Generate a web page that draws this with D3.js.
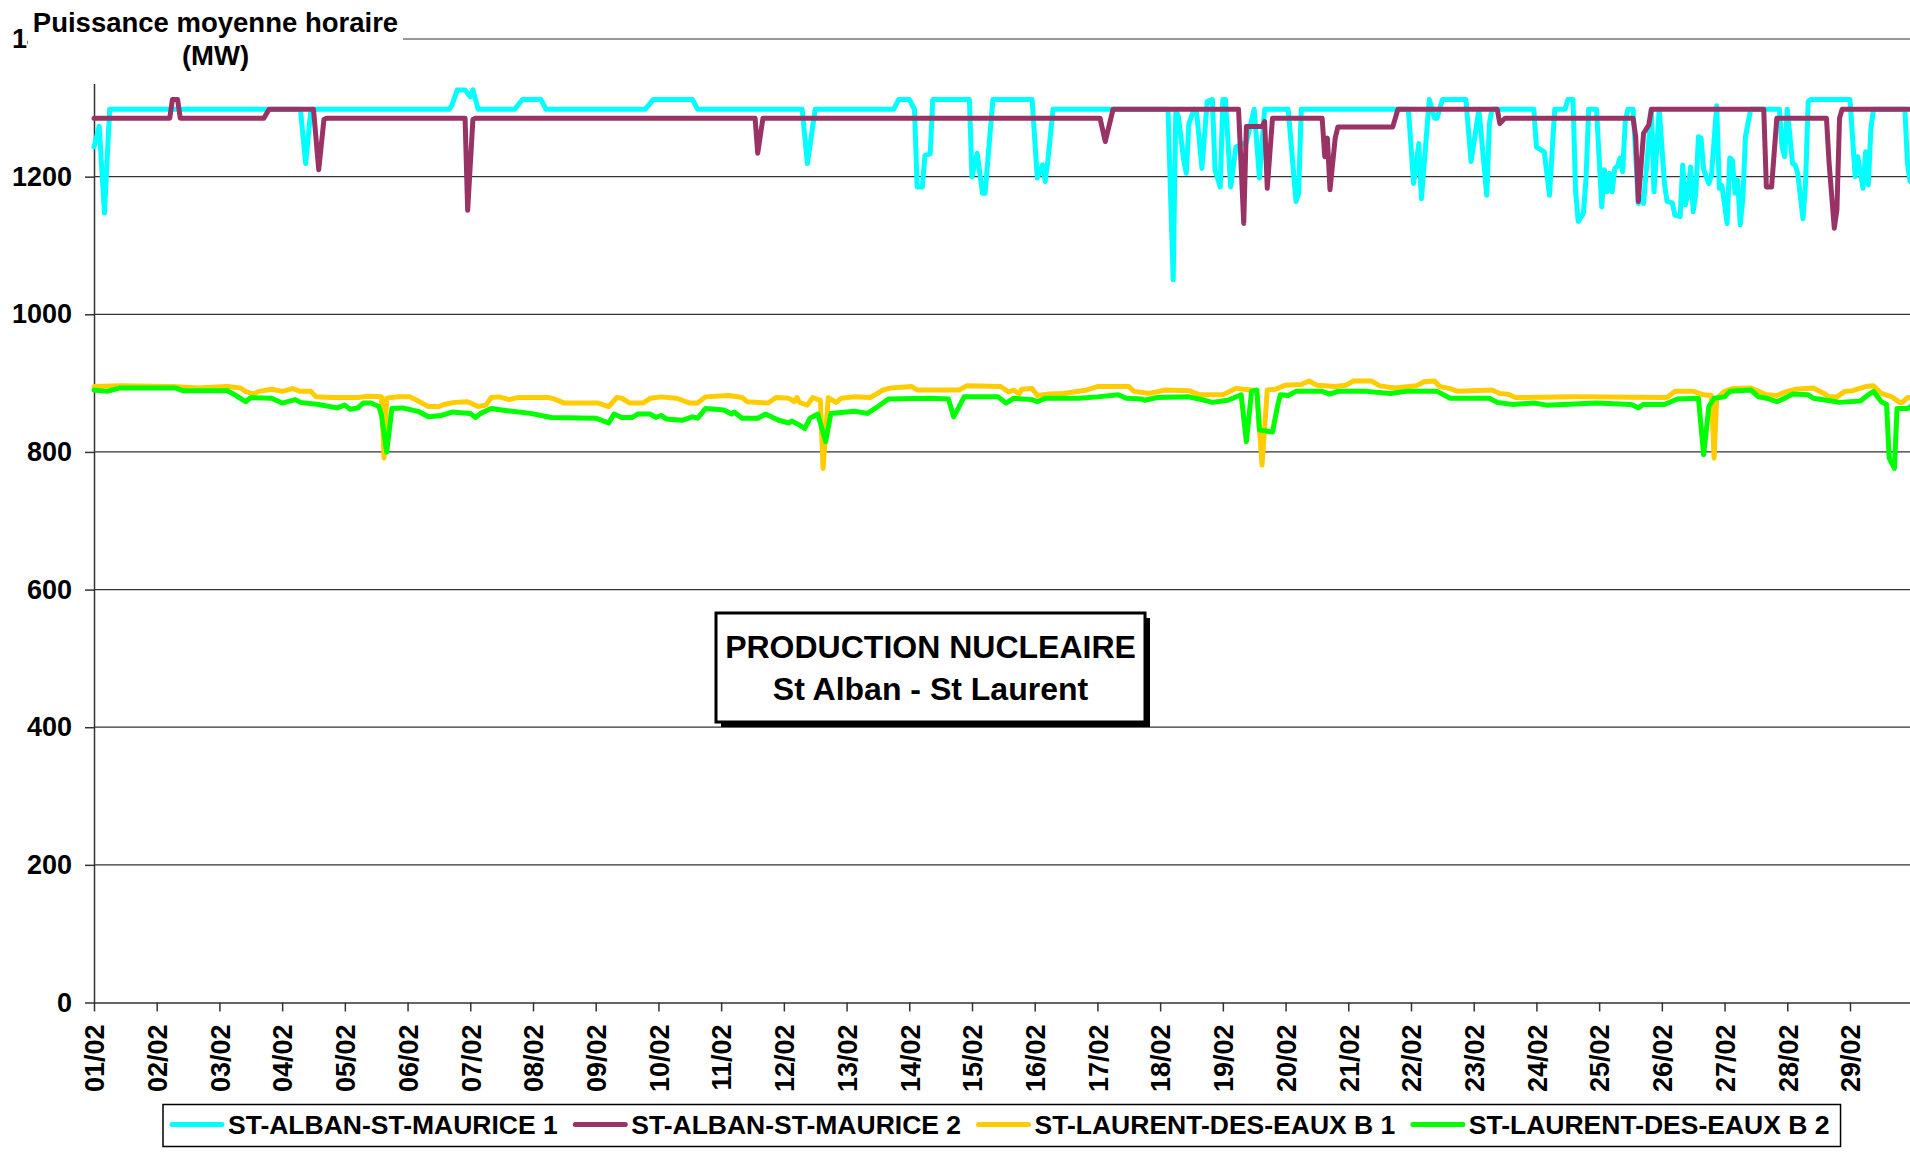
<!DOCTYPE html>
<html>
<head>
<meta charset="utf-8">
<script src="https://cdn.jsdelivr.net/npm/d3@7"></script>
<style>
  body { margin: 0; background: #fff; }
  svg { display: block; font-family: "Liberation Sans", Arial, sans-serif; font-weight: bold; }
</style>
</head>
<body>
<div id="container"></div>
<script>
/* DATA : [hours since 01/02 00h, MW] */
const seriesNames = ["ST-ALBAN-ST-MAURICE 1", "ST-ALBAN-ST-MAURICE 2", "ST-LAURENT-DES-EAUX B 1", "ST-LAURENT-DES-EAUX B 2"];
const seriesColors = ["#00ffff", "#993366", "#ffcc00", "#00ff00"];
const dayLabels = ["01/02","02/02","03/02","04/02","05/02","06/02","07/02","08/02","09/02","10/02",
  "11/02","12/02","13/02","14/02","15/02","16/02","17/02","18/02","19/02","20/02",
  "21/02","22/02","23/02","24/02","25/02","26/02","27/02","28/02","29/02"];
const yTicks = [0, 200, 400, 600, 800, 1000, 1200, 1400];

const stAlban1 = [
  [0,1243],[2,1273],[4,1147],[6,1298],[79,1298],[81,1219],[83,1298],
  [136,1298],[137,1304],[139,1326],[142,1326],[144,1316],[145,1326],[147,1298],
  [161,1298],[164,1312],[171,1312],[173,1298],[211,1298],[214,1312],[229,1312],[231,1298],
  [271,1298],[273,1219],[276,1298],[306,1298],[308,1312],[312,1312],[314,1298],[315,1185],[317,1185],
  [318,1231],[320,1233],[321,1312],[335,1312],[336,1200],[338,1234],[340,1176],[341,1176],[344,1312],
  [359,1312],[361,1198],[363,1217],[364,1193],[365,1222],[367,1298],
  [411,1298],[413,1050],[414,1298],[415,1287],[417,1224],[418,1205],[419,1277],[421,1298],[422,1292],
  [424,1212],[426,1309],[428,1312],[429,1210],[431,1185],[432,1312],[433,1312],[435,1185],[437,1243],
  [441,1250],[444,1298],[446,1198],[448,1298],[457,1298],[460,1164],[461,1176],[462,1298],
  [503,1298],[505,1190],[507,1248],[508,1168],[511,1312],[513,1285],[514,1285],[516,1312],
  [525,1312],[527,1222],[530,1298],[533,1173],[534,1277],[535,1298],[551,1298],[552,1243],[555,1236],
  [557,1173],[559,1298],[563,1298],[564,1312],[566,1312],[567,1178],[568,1135],[570,1147],[571,1198],
  [572,1298],[575,1298],[577,1156],[578,1210],[579,1178],[580,1205],[581,1178],[582,1212],[583,1215],
  [584,1227],[585,1207],[586,1280],[587,1298],[589,1298],[591,1161],[592,1170],[593,1161],[596,1298],
  [597,1178],[599,1298],[601,1190],[602,1164],[604,1162],[605,1144],[607,1142],[608,1217],[609,1159],
  [610,1176],[611,1214],[612,1149],[613,1176],[614,1258],[615,1256],[616,1210],[618,1190],[619,1202],
  [621,1303],[622,1183],[623,1187],[625,1132],[626,1227],[627,1224],[628,1176],[629,1195],[630,1130],
  [631,1168],[632,1258],[634,1298],[645,1298],[646,1243],[647,1229],[648,1298],[650,1219],[651,1217],
  [652,1205],[654,1139],[655,1190],[656,1309],[657,1312],[672,1312],[674,1200],[675,1229],[677,1183],
  [678,1236],[679,1188],[680,1270],[681,1298],[693,1298],[694,1219],[695,1193],[696,1195]
];

const stAlban2 = [
  [0,1285],[29,1285],[30,1312],[32,1312],[33,1285],[65,1285],[67,1298],[84,1298],[86,1210],[88,1283],
  [89,1285],[142,1285],[143,1151],[145,1283],[146,1285],[253,1285],[254,1234],[256,1285],
  [385,1285],[387,1251],[390,1298],[438,1298],[440,1132],[441,1273],[447,1273],[448,1280],[449,1183],
  [451,1285],[470,1285],[471,1229],[472,1256],[473,1181],[475,1256],[476,1272],[497,1272],[499,1298],
  [537,1298],[538,1277],[540,1285],[589,1285],[590,1258],[591,1164],[593,1263],[595,1275],[596,1298],
  [639,1298],[640,1185],[642,1185],[644,1285],[663,1285],[664,1220],[666,1125],[667,1152],[668,1285],
  [669,1298],[696,1298]
];

const stLaurent1 = [
  [0,895],[10,896],[30,895],[40,893],[51,895],[56,893],[58,888],[61,884],[63,888],[68,891],[72,888],
  [76,892],[79,888],[83,888],[85,880],[91,879],[101,879],[105,881],[110,880],[111,791],[112,878],
  [116,880],[121,880],[124,874],[128,866],[132,866],[134,869],[138,872],[143,873],[147,866],[150,868],
  [152,879],[155,880],[159,876],[162,879],[174,879],[176,877],[180,871],[193,871],[197,866],[200,879],
  [202,878],[205,871],[210,871],[213,878],[217,880],[223,878],[228,871],[231,871],[234,880],[243,882],
  [248,879],[250,873],[258,871],[261,879],[266,878],[268,873],[269,879],[270,872],[273,868],[275,879],
  [278,875],[279,776],[281,879],[284,872],[286,878],[291,880],[297,879],[302,890],[305,893],[313,895],
  [315,890],[331,890],[334,896],[347,895],[350,887],[352,890],[354,884],[355,891],[359,892],[361,882],
  [365,884],[371,885],[380,890],[384,895],[396,895],[398,888],[404,885],[410,890],[419,889],[423,883],
  [432,883],[437,892],[443,890],[445,889],[447,781],[449,890],[452,891],[456,897],[462,898],[465,903],
  [468,897],[475,895],[479,897],[482,903],[489,903],[492,896],[498,893],[506,896],[509,902],[513,903],
  [515,895],[519,892],[522,888],[535,890],[538,885],[541,884],[544,879],[566,880],[602,879],[605,888],
  [612,888],[616,883],[619,882],[620,791],[621,878],[624,888],[627,892],[634,893],[637,888],[640,883],
  [644,882],[648,888],[651,891],[658,893],[662,885],[664,880],[667,880],[670,888],[673,889],[678,895],
  [681,896],[684,885],[688,880],[691,872],[692,872],[694,879],[696,878]
];

const stLaurent2 = [
  [0,890],[5,888],[10,893],[31,893],[34,889],[51,889],[53,885],[58,873],[60,879],[68,878],[72,871],
  [77,876],[79,872],[86,869],[93,864],[96,868],[98,862],[101,864],[103,871],[106,871],[109,866],
  [110,854],[112,800],[114,863],[118,864],[124,859],[128,851],[133,853],[137,858],[144,856],[146,850],
  [148,856],[152,863],[156,861],[167,856],[175,850],[192,849],[197,842],[199,855],[202,850],[206,850],
  [208,855],[213,855],[215,850],[217,853],[219,848],[225,846],[229,851],[231,849],[234,863],[241,861],
  [244,855],[245,858],[248,849],[254,849],[257,855],[262,846],[266,842],[267,845],[270,839],[272,834],
  [274,849],[277,855],[280,815],[282,856],[291,859],[296,856],[300,866],[304,877],[320,878],[327,877],
  [329,851],[333,880],[346,880],[349,871],[352,878],[359,876],[361,873],[364,878],[377,878],[384,880],
  [392,883],[395,878],[401,877],[402,875],[407,879],[419,880],[425,875],[428,872],[434,875],[439,883],
  [441,815],[443,888],[445,890],[446,832],[451,829],[453,868],[454,883],[457,882],[460,888],[470,888],
  [473,884],[476,888],[487,888],[496,885],[502,888],[514,888],[519,878],[534,878],[537,872],[543,869],
  [551,871],[556,868],[575,871],[588,869],[590,866],[591,864],[593,869],[601,869],[606,877],[614,878],
  [616,796],[618,866],[620,878],[624,880],[626,888],[634,890],[637,880],[640,878],[644,873],[647,878],
  [650,884],[656,883],[658,878],[665,874],[668,872],[676,874],[679,883],[681,888],[684,873],[686,869],
  [687,791],[689,776],[690,863],[694,863],[696,868]
];

/* CONSTANTS */
const width = 1910;
const height = 1152;
const plot = { left: 94, top: 39, bottom: 1002.5, right: 1912.7 };
const t0 = Date.UTC(2008, 1, 1);
const toDate = h => new Date(t0 + h * 3600e3);

/* SCALES */
const xScale = d3.scaleUtc()
  .domain([toDate(0), toDate(29 * 24)])
  .range([plot.left, plot.right]);

const yScale = d3.scaleLinear()
  .domain([0, 1400])
  .range([plot.bottom, plot.top]);

/* SVG */
const svg = d3.select("#container")
  .append("svg")
  .attr("width", width)
  .attr("height", height)
  .style("background-color", "#fff");

// gridlines
svg.append("g")
  .selectAll("line")
  .data(yTicks.filter(d => d > 0))
  .join("line")
  .attr("x1", plot.left)
  .attr("x2", width)
  .attr("y1", d => yScale(d))
  .attr("y2", d => yScale(d))
  .attr("stroke", "#333")
  .attr("stroke-width", 1.2);

// axes
const dayDates = dayLabels.map((d, i) => toDate(i * 24));

const xAxisGroup = svg.append("g")
  .attr("transform", `translate(0,${plot.bottom})`)
  .call(d3.axisBottom(xScale)
    .tickValues(dayDates)
    .tickFormat((d, i) => dayLabels[i])
    .tickSize(9)
    .tickSizeOuter(0));

xAxisGroup.select(".domain").attr("stroke", "#333").attr("stroke-width", 1.5);
xAxisGroup.selectAll(".tick line").attr("stroke", "#333").attr("stroke-width", 1.5);
xAxisGroup.selectAll(".tick text")
  .attr("transform", "rotate(-90)")
  .attr("x", -22)
  .attr("y", 0)
  .attr("dy", "0.36em")
  .style("text-anchor", "end")
  .style("font-size", "27px")
  .style("font-weight", "bold")
  .attr("fill", "#000");

const yAxisGroup = svg.append("g")
  .attr("transform", `translate(${plot.left},0)`)
  .call(d3.axisLeft(yScale)
    .tickValues(yTicks)
    .tickFormat(d3.format("d"))
    .tickSize(9)
    .tickPadding(13)
    .tickSizeOuter(0));

yAxisGroup.select(".domain").attr("stroke", "#333").attr("stroke-width", 1.5);
yAxisGroup.selectAll(".tick line").attr("stroke", "#333").attr("stroke-width", 1.5);
yAxisGroup.selectAll(".tick text")
  .style("font-size", "27px")
  .style("font-weight", "bold")
  .attr("fill", "#000");

// LINES
const allSeries = [stAlban1, stAlban2, stLaurent1, stLaurent2];
const line = d3.line()
  .x(d => xScale(toDate(d[0])))
  .y(d => yScale(d[1]));

svg.append("g")
  .selectAll("path")
  .data(allSeries)
  .join("path")
  .attr("d", d => line(d))
  .attr("fill", "none")
  .attr("stroke", (d, i) => seriesColors[i])
  .attr("stroke-width", 5)
  .attr("stroke-linejoin", "round")
  .attr("stroke-linecap", "round");

// axis title (covers the 1400 label like the original)
svg.append("rect")
  .attr("x", 28).attr("y", 0)
  .attr("width", 375).attr("height", 84)
  .attr("fill", "#fff");

svg.append("text")
  .attr("x", 215.5).attr("y", 32)
  .attr("text-anchor", "middle")
  .style("font-size", "27.5px")
  .text("Puissance moyenne horaire");

svg.append("text")
  .attr("x", 215.5).attr("y", 65)
  .attr("text-anchor", "middle")
  .style("font-size", "27.5px")
  .text("(MW)");

// chart title box
const box = { x: 716, y: 613, w: 429, h: 109 };
svg.append("rect")
  .attr("x", box.x + 5).attr("y", box.y + 5)
  .attr("width", box.w).attr("height", box.h)
  .attr("fill", "#000");
svg.append("rect")
  .attr("x", box.x).attr("y", box.y)
  .attr("width", box.w).attr("height", box.h)
  .attr("fill", "#fff")
  .attr("stroke", "#000")
  .attr("stroke-width", 3);
svg.append("text")
  .attr("x", box.x + box.w / 2).attr("y", 658)
  .attr("text-anchor", "middle")
  .style("font-size", "32px")
  .text("PRODUCTION NUCLEAIRE");
svg.append("text")
  .attr("x", box.x + box.w / 2).attr("y", 700)
  .attr("text-anchor", "middle")
  .style("font-size", "32px")
  .text("St Alban - St Laurent");

// LEGEND
const legend = svg.append("g");
const legendBox = legend.append("rect")
  .attr("x", 163).attr("y", 1104.5)
  .attr("height", 42)
  .attr("fill", "#fff")
  .attr("stroke", "#000")
  .attr("stroke-width", 1.5);

let lx = 172;
seriesNames.forEach((name, i) => {
  legend.append("line")
    .attr("x1", lx).attr("x2", lx + 50)
    .attr("y1", 1124.5).attr("y2", 1124.5)
    .attr("stroke", seriesColors[i])
    .attr("stroke-width", 5)
    .attr("stroke-linecap", "round");
  const t = legend.append("text")
    .attr("x", lx + 56).attr("y", 1134)
    .style("font-size", "26.5px")
    .text(name);
  lx = lx + 56 + t.node().getComputedTextLength() + 17.5;
});
legendBox.attr("width", lx - 17.5 + 11 - 163);
</script>
</body>
</html>
